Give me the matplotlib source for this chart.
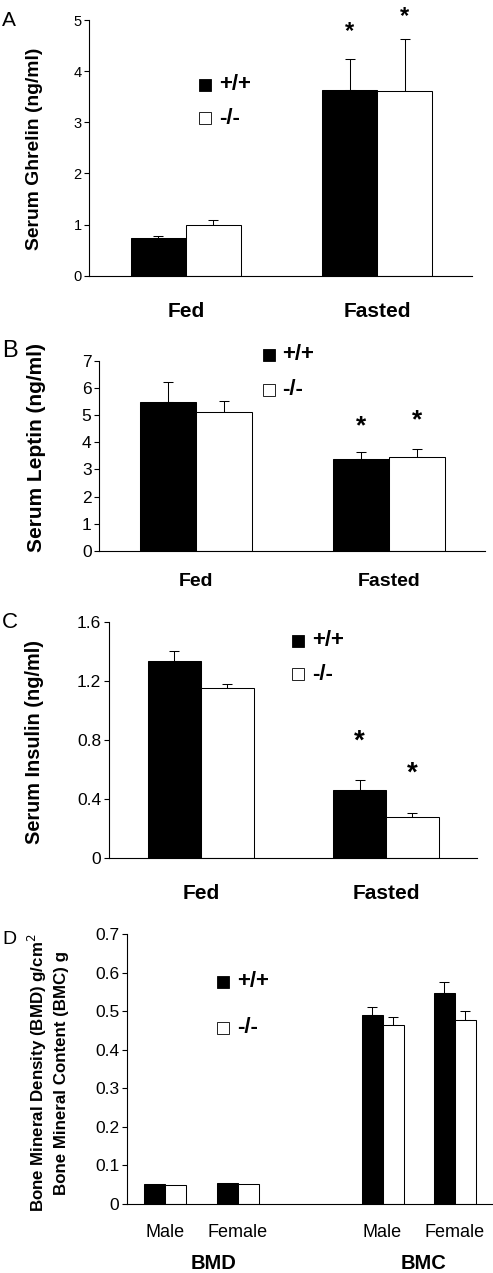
import numpy as np
import matplotlib
matplotlib.use("Agg")
import matplotlib.pyplot as plt
from matplotlib.patches import Rectangle
from matplotlib.transforms import offset_copy

plt.rcParams["font.family"] = ["Liberation Sans", "DejaVu Sans"]

W, H = 493, 1273
genotypes = ["+/+", "-/-"]
conditions = ["Fed", "Fasted"]

# A: ghrelin
ghrelin_wt = [0.73, 3.64]
ghrelin_wt_err = [0.05, 0.60]
ghrelin_ko = [0.99, 3.61]
ghrelin_ko_err = [0.09, 1.01]
ghrelin_star = [4.92, 5.21]

# B: leptin
leptin_wt = [5.48, 3.39]
leptin_wt_err = [0.73, 0.25]
leptin_ko = [5.10, 3.44]
leptin_ko_err = [0.43, 0.31]
leptin_star = [4.89, 5.10]

# C: insulin
insulin_wt = [1.339, 0.462]
insulin_wt_err = [0.065, 0.068]
insulin_ko = [1.154, 0.28]
insulin_ko_err = [0.023, 0.029]
insulin_star = [0.848, 0.633]

# D: bone
bone_groups = ["Male", "Female", "Male", "Female"]
bone_pos = [0, 1, 3, 4]
bone_wt = [0.052, 0.055, 0.491, 0.546]
bone_wt_err = [0.0, 0.0, 0.021, 0.029]
bone_ko = [0.048, 0.052, 0.465, 0.476]
bone_ko_err = [0.0, 0.0, 0.021, 0.025]


def px_axes(fig, left, top, right, bottom):
    return fig.add_axes([left / W, 1 - bottom / H, (right - left) / W, (bottom - top) / H])


def style(ax, tick_fs):
    for s in ("top", "right"):
        ax.spines[s].set_visible(False)
    for s in ("left", "bottom"):
        ax.spines[s].set_linewidth(0.8)
    ax.tick_params(axis="y", direction="out", length=3.6, width=0.8, pad=2, labelsize=tick_fs)


def bars(ax, x, wt, wt_err, ko, ko_err, w):
    x = np.asarray(x, float)
    ax.bar(x - w / 2, wt, w, color="black", edgecolor="black", linewidth=0.75, zorder=2)
    ax.bar(x + w / 2, ko, w, color="white", edgecolor="black", linewidth=0.75, zorder=2)
    for xs, v, e in ((x - w / 2, wt, wt_err), (x + w / 2, ko, ko_err)):
        e = np.asarray(e)
        m = e > 0
        if m.any():
            ax.errorbar(xs[m], np.asarray(v)[m], yerr=[np.zeros(m.sum()), e[m]], fmt="none",
                        ecolor="black", elinewidth=0.75, capsize=3.6, capthick=0.75, zorder=1)


def stars(fig, ax, x, ys, w, fs):
    tr = offset_copy(ax.transData, fig=fig, x=0, y=-0.57 * fs, units="points")
    for xs, y in zip((x - w / 2, x + w / 2), ys):
        ax.text(xs, y, "*", transform=tr, ha="center", va="baseline", fontsize=fs,
                fontweight="bold", clip_on=False)


def legend(fig, cx, ys, tx, size=12, fs=16):
    for (y, fc, lab) in zip(ys, ("black", "white"), genotypes):
        fig.patches.append(Rectangle(((cx - size / 2) / W, 1 - (y + size / 2) / H), size / W, size / H,
                                     facecolor=fc, edgecolor="black", linewidth=0.6,
                                     transform=fig.transFigure))
        fig.text(tx / W, 1 - y / H, lab, ha="left", va="center", fontsize=fs, fontweight="bold")


fig = plt.figure(figsize=(W / 100, H / 100), dpi=100)
x2 = np.arange(2)

# ---- A
ax = px_axes(fig, 89.3, 20, 472, 275.7)
style(ax, 10.5)
bars(ax, x2, ghrelin_wt, ghrelin_wt_err, ghrelin_ko, ghrelin_ko_err, 0.288)
ax.set_ylim(0, 5); ax.set_yticks(range(6))
ax.set_xlim(-0.506, 1.497)
ax.set_xticks(x2, conditions, fontsize=15, fontweight="bold")
ax.tick_params(axis="x", length=0, pad=19)
stars(fig, ax, x2[1], ghrelin_star, 0.288, 17)
legend(fig, 204.5, (84.5, 118), 219)
fig.text(35 / W, 1 - 149 / H, "Serum Ghrelin (ng/ml)", rotation=90, ha="center", va="center",
         fontsize=13.9, fontweight="bold")
fig.text(2 / W, 1 - 20 / H, "A", ha="left", va="center", fontsize=15)

# ---- B
ax = px_axes(fig, 99.3, 360.7, 485, 551)
style(ax, 12.5)
bars(ax, x2, leptin_wt, leptin_wt_err, leptin_ko, leptin_ko_err, 0.288)
ax.set_ylim(0, 7); ax.set_yticks(range(8))
ax.set_xlim(-0.501, 1.497)
ax.set_xticks(x2, conditions, fontsize=14, fontweight="bold")
ax.tick_params(axis="x", length=0, pad=15.5)
stars(fig, ax, x2[1], leptin_star, 0.288, 19)
legend(fig, 268.5, (355, 389.5), 282)
fig.text(37 / W, 1 - 447 / H, "Serum Leptin (ng/ml)", rotation=90, ha="center", va="center",
         fontsize=15, fontweight="bold")
fig.text(2 / W, 1 - 351 / H, "B", ha="left", va="center", fontsize=17)

# ---- C
ax = px_axes(fig, 109, 622, 477, 858.3)
style(ax, 12.5)
bars(ax, x2, insulin_wt, insulin_wt_err, insulin_ko, insulin_ko_err, 0.286)
ax.set_ylim(0, 1.6); ax.set_yticks([0, 0.4, 0.8, 1.2, 1.6])
ax.set_yticklabels(["0", "0.4", "0.8", "1.2", "1.6"])
ax.set_xlim(-0.497, 1.492)
ax.set_xticks(x2, conditions, fontsize=15, fontweight="bold")
ax.tick_params(axis="x", length=0, pad=18.4)
stars(fig, ax, x2[1], insulin_star, 0.286, 20)
legend(fig, 297.5, (640.5, 674.3), 311.7)
fig.text(35 / W, 1 - 741.5 / H, "Serum Insulin (ng/ml)", rotation=90, ha="center", va="center",
         fontsize=14.3, fontweight="bold")
fig.text(2 / W, 1 - 623 / H, "C", ha="left", va="center", fontsize=16)

# ---- D
ax = px_axes(fig, 127, 934, 491.7, 1204)
style(ax, 12.5)
bars(ax, bone_pos, bone_wt, bone_wt_err, bone_ko, bone_ko_err, 0.29)
ax.set_ylim(0, 0.7); ax.set_yticks(np.arange(0, 0.71, 0.1))
ax.set_yticklabels(["0", "0.1", "0.2", "0.3", "0.4", "0.5", "0.6", "0.7"])
ax.set_xlim(-0.529, 4.508)
ax.set_xticks(bone_pos, bone_groups, fontsize=13)
ax.tick_params(axis="x", length=0, pad=14.4)
ax.text(0.67, -0.221, "BMD", transform=ax.get_xaxis_transform(), ha="center", va="center",
        fontsize=14.5, fontweight="bold")
ax.text(3.57, -0.221, "BMC", transform=ax.get_xaxis_transform(), ha="center", va="center",
        fontsize=14.5, fontweight="bold")
legend(fig, 223, (981.5, 1027.5), 236.7)
fig.text(47.5 / W, 1 - 1073 / H, "Bone Mineral Density (BMD) g/cm$^2$\nBone Mineral Content (BMC) g",
         rotation=90, ha="center", va="center", fontsize=12.2, fontweight="bold", linespacing=1.45)
fig.text(2 / W, 1 - 939 / H, "D", ha="left", va="center", fontsize=14)

fig.savefig("out.png", dpi=100)
